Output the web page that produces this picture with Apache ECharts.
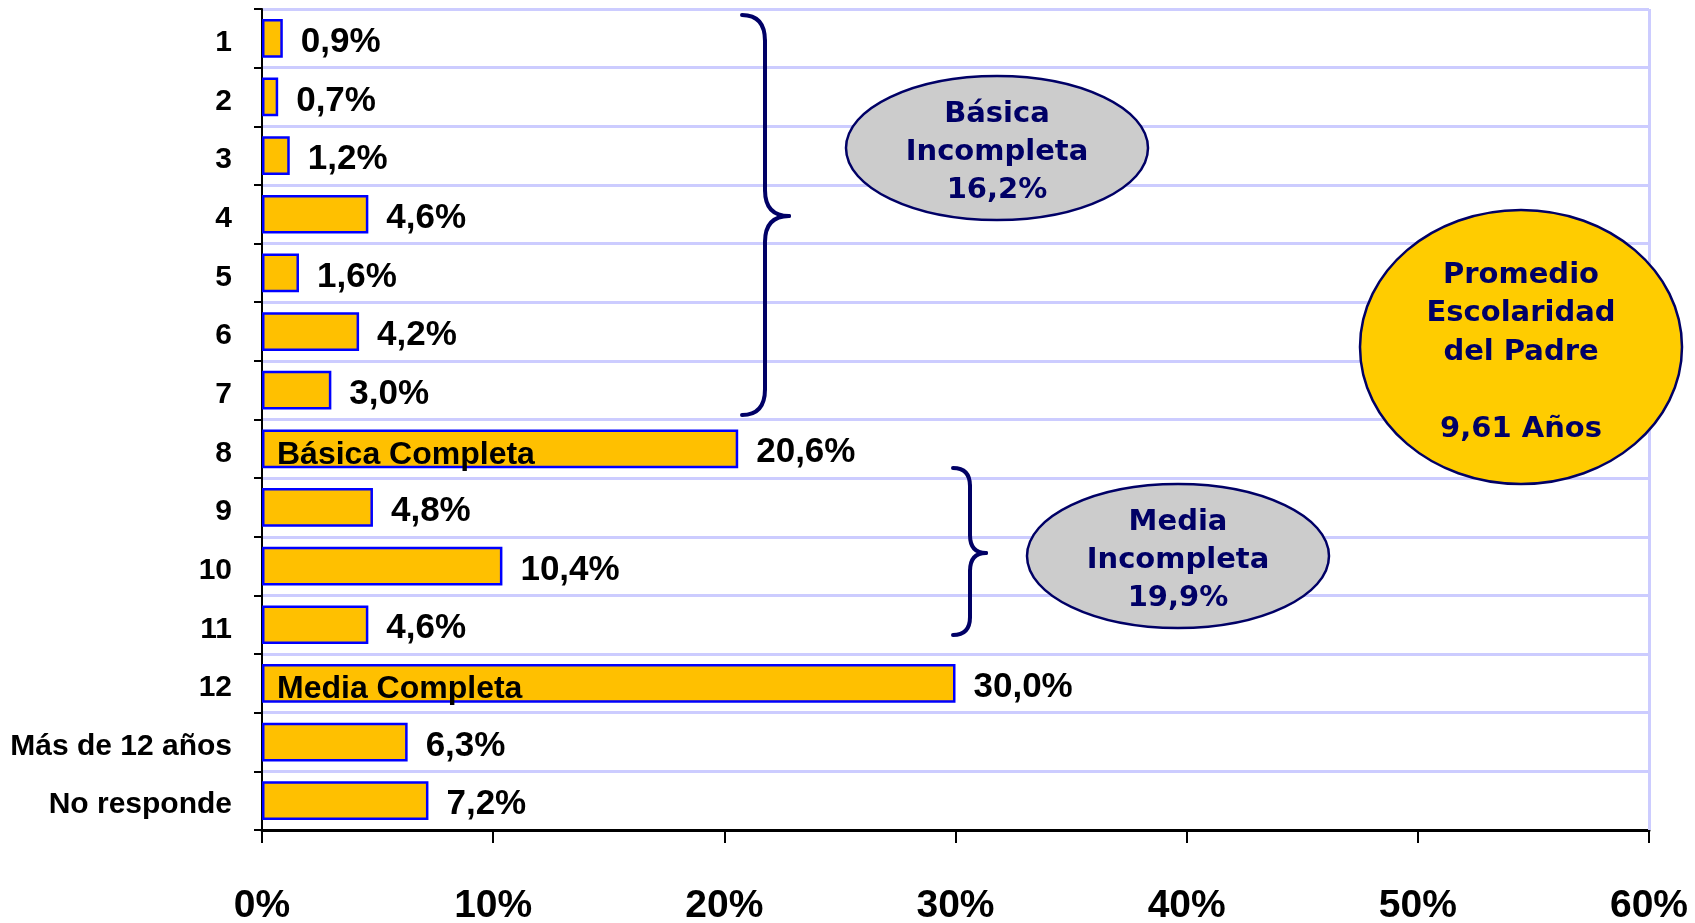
<!DOCTYPE html>
<html>
<head>
<meta charset="utf-8">
<script src="https://cdn.jsdelivr.net/npm/echarts@6/dist/echarts.min.js"></script>
<style>
html,body{margin:0;padding:0;background:#fff;}
#c{width:1695px;height:923px;}
</style>
</head>
<body>
<div id="c"></div>
<script>
var categories = ['1','2','3','4','5','6','7','8','9','10','11','12','Más de 12 años','No responde'];
var values = [0.9, 0.7, 1.2, 4.6, 1.6, 4.2, 3.0, 20.6, 4.8, 10.4, 4.6, 30.0, 6.3, 7.2];
var insideLabels = ['', '', '', '', '', '', '', 'Básica Completa', '', '', '', 'Media Completa', '', ''];
var xTicks = [0, 10, 20, 30, 40, 50, 60];

var NARROW = '"Liberation Sans Narrow", "Arial Narrow", "Liberation Sans", Arial, sans-serif';
var WIDE = '"Liberation Sans", Arial, sans-serif';
var OVAL = '"DejaVu Sans", Verdana, sans-serif';
var NAVY = '#000066';

var chart = echarts.init(document.getElementById('c'));

function fmt(v){ return v.toFixed(1).replace('.', ',') + '%'; }

function brace(x0, y0, y1, ym, s, t, r){
  var st = {stroke: NAVY, lineWidth: 4, fill: null, lineCap: 'round'};
  return [
    {type:'bezierCurve', shape:{x1:x0, y1:y0, x2:s, y2:y0 + r, cpx1:s, cpy1:y0}, style:st, z:100},
    {type:'line', shape:{x1:s, y1:y0 + r, x2:s, y2:ym - r}, style:st, z:100},
    {type:'bezierCurve', shape:{x1:s, y1:ym - r, x2:t, y2:ym, cpx1:s, cpy1:ym}, style:st, z:100},
    {type:'bezierCurve', shape:{x1:t, y1:ym, x2:s, y2:ym + r, cpx1:s, cpy1:ym}, style:st, z:100},
    {type:'line', shape:{x1:s, y1:ym + r, x2:s, y2:y1 - r}, style:st, z:100},
    {type:'bezierCurve', shape:{x1:s, y1:y1 - r, x2:x0, y2:y1, cpx1:s, cpy1:y1}, style:st, z:100}
  ];
}

var graphics = [].concat(
  brace(742, 15, 415, 216, 765, 789, 26),
  brace(953, 468, 635, 553, 970, 986, 18),
  [
    {type:'ellipse', shape:{cx:997, cy:148, rx:151, ry:72}, style:{fill:'#cccccc', stroke:NAVY, lineWidth:2.5}, z:100},
    {type:'text', x:997, y:152, style:{text:'Básica\nIncompleta\n16,2%', fill:NAVY, font:'bold 29px ' + OVAL, textAlign:'center', textVerticalAlign:'middle', lineHeight:38}, z:101},
    {type:'ellipse', shape:{cx:1178, cy:556, rx:151, ry:72}, style:{fill:'#cccccc', stroke:NAVY, lineWidth:2.5}, z:100},
    {type:'text', x:1178, y:560, style:{text:'Media\nIncompleta\n19,9%', fill:NAVY, font:'bold 29px ' + OVAL, textAlign:'center', textVerticalAlign:'middle', lineHeight:38}, z:101},
    {type:'ellipse', shape:{cx:1521, cy:347, rx:161, ry:137}, style:{fill:'#ffcc00', stroke:NAVY, lineWidth:2.5}, z:100},
    {type:'text', x:1521, y:352, style:{text:'Promedio\nEscolaridad\ndel Padre\n\n9,61 Años', fill:NAVY, font:'bold 29px ' + OVAL, textAlign:'center', textVerticalAlign:'middle', lineHeight:38.5}, z:101}
  ]
);

chart.setOption({
  animation: false,
  backgroundColor: '#ffffff',
  grid: {left: 262, right: 46, top: 9, bottom: 93, containLabel: false, outerBoundsMode: 'none'},
  xAxis: {
    type: 'value', min: 0, max: 60, interval: 10,
    axisLine: {show: true, lineStyle: {color: '#000', width: 3}},
    axisTick: {show: true, length: 13, lineStyle: {color: '#000', width: 2}},
    splitLine: {show: false},
    axisLabel: {
      margin: 57, color: '#000', fontFamily: NARROW, fontWeight: 'bold', fontSize: 39,
      formatter: function(v){ return xTicks.indexOf(v) >= 0 ? v + '%' : ''; }
    }
  },
  yAxis: {
    type: 'category', inverse: true, data: categories,
    axisLine: {show: true, lineStyle: {color: '#000', width: 2}},
    axisTick: {show: true, length: 8, lineStyle: {color: '#000', width: 2}},
    splitLine: {show: true, lineStyle: {color: '#ccccff', width: 3}},
    axisLabel: {
      margin: 30, color: '#000', fontFamily: NARROW, fontWeight: 'bold', fontSize: 30,
      formatter: function(v){ return '{c|' + v + '}'; },
      rich: {c: {fontFamily: NARROW, fontWeight: 'bold', fontSize: 30, color: '#000', padding: [9, 0, 0, 0]}}
    }
  },
  series: [
    {
      type: 'bar', data: values, barCategoryGap: '34%',
      itemStyle: {color: '#ffc000', borderColor: '#0000ff', borderWidth: 2.5},
      label: {
        show: true, position: 'right', distance: 18, offset: [0, 4], color: '#000',
        fontFamily: NARROW, fontWeight: 'bold', fontSize: 35,
        formatter: function(p){ return fmt(p.value); }
      },
      markLine: {
        silent: true, symbol: 'none', label: {show: false},
        lineStyle: {color: '#ccccff', width: 3, type: 'solid'},
        data: [{xAxis: 60}]
      },
      z: 2
    },
    {
      type: 'bar', data: values, barGap: '-100%', barCategoryGap: '34%', silent: true,
      itemStyle: {color: 'rgba(0,0,0,0)'},
      label: {
        show: true, position: 'insideLeft', distance: 15, offset: [0, 6], color: '#000',
        fontFamily: WIDE, fontWeight: 'bold', fontSize: 32,
        formatter: function(p){ return insideLabels[p.dataIndex]; }
      },
      z: 3
    }
  ],
  graphic: graphics
});
</script>
</body>
</html>
